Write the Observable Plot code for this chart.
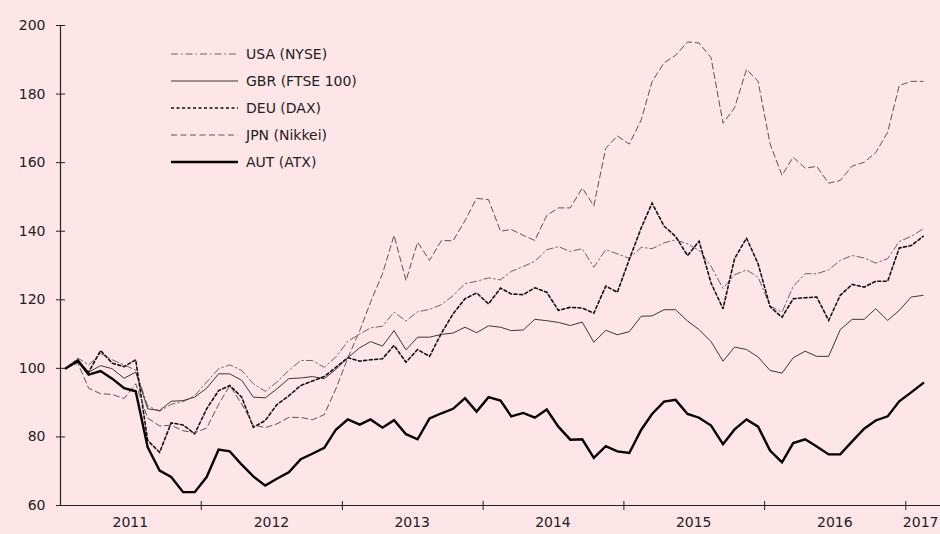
<!DOCTYPE html>
<html><head><meta charset="utf-8">
<script src="https://cdn.jsdelivr.net/npm/d3@7"></script>
<script src="https://cdn.jsdelivr.net/npm/@observablehq/plot@0.6"></script>
<style>
body{margin:0;background:#fee5e7;}
#wrap{position:relative;width:940px;height:534px;}
#legend{position:absolute;left:0;top:0;pointer-events:none;}
</style></head><body><div id="wrap"></div>
<script>
// Monthly index values, Jan 2011 = 100, Jan 2011 .. Feb 2017
const startYear = 2011;
const usa = [100,103,101,104.3,102.5,101,99.5,89,87.5,89.5,90.3,92,96,99.9,101,99.4,95.5,93.3,96,99.4,102.3,102.3,100.3,103.3,107.9,110,111.8,112.3,116.4,113.8,116.5,117.2,118.6,121.2,124.7,125.4,126.4,125.8,128.3,129.7,131.2,134.6,135.5,134.1,134.9,129.5,134.6,133.4,132.1,135.3,134.9,136.6,137.5,136.3,134.4,129.8,123.3,127.3,128.7,126.6,118.2,116.4,123.9,127.6,127.6,128.7,131.5,132.9,132.2,130.7,132,137,138.5,140.7];
const gbr = [100,101.8,98.9,100.8,99.9,97.1,98.9,88.2,87.7,90.4,90.6,91.6,94.2,98.4,98.4,96.5,91.6,91.4,94,97,97.2,97.6,97,99.7,103.1,106,107.8,106.5,111,105.4,109.1,109.1,109.9,110.3,112,110.4,112.4,112,111,111.2,114.3,113.9,113.4,112.5,113.5,107.6,111.1,109.8,110.7,115.2,115.3,117.1,117.1,113.8,111.3,107.8,102.1,106.2,105.5,103.3,99.4,98.6,103.1,105,103.5,103.5,111.3,114.3,114.3,117.4,114,116.9,120.8,121.3];
const deu = [100,102.1,98.9,105.2,101.5,100.5,102.5,79,75.5,84.1,83.5,80.9,88.2,93.5,95,91.6,82.8,84.8,89.4,92,95,96.3,97.6,100.3,103.1,102.1,102.5,102.8,106.7,101.8,105.5,103.5,110.3,115.9,120.3,122,118.8,123.4,121.7,121.5,123.5,122.2,116.9,117.8,117.6,116.1,124,122.2,131.8,141,148.2,141.5,138.5,132.9,137.1,124.9,117.4,132,138,130.5,118,114.9,120.3,120.6,120.8,114,121.3,124.5,123.7,125.4,125.4,135.1,135.8,138.5];
const jpn = [100,101.5,94.2,92.6,92.4,91.2,95.5,85.5,83.2,83.4,81.8,81.2,82.6,89.5,95,89.6,83.5,82.7,83.8,85.7,85.7,85,86.5,94,103,111,119.3,127.6,138.8,125.6,136.8,131.5,137.3,137.2,143.1,149.6,149.2,140,140.5,138.8,137.3,144.6,146.8,146.8,152.6,147.4,164.2,167.8,165.4,172.5,183.6,189.1,191.3,195.2,194.9,190.6,171.5,176,187.2,183.7,165.5,156.3,161.6,158.4,158.9,154,154.8,159,160.1,162.9,168.9,182.5,183.7,183.7];
const aut = [100,102.3,98.2,99.2,97,94.2,93.3,77,70.2,68.3,63.9,63.9,68.3,76.3,75.8,71.9,68.5,65.8,67.8,69.7,73.5,75.1,76.8,82.1,85.1,83.6,85.1,82.7,84.9,80.8,79.3,85.4,86.9,88.2,91.3,87.4,91.6,90.6,86,87,85.6,88,83,79.2,79.3,73.9,77.3,75.8,75.3,82.1,86.7,90.3,90.8,86.7,85.6,83.3,77.9,82.2,85.1,83,76,72.6,78.2,79.3,77.2,74.9,74.9,78.7,82.4,84.8,86,90.4,93,95.7];
const seriesNames = ["USA (NYSE)", "GBR (FTSE 100)", "DEU (DAX)", "JPN (Nikkei)", "AUT (ATX)"];
const yTicks = [60, 80, 100, 120, 140, 160, 180, 200];
const yearLabels = [2011, 2012, 2013, 2014, 2015, 2016, 2017];

const styles = [
  {stroke: "#6a6262", width: 1, dash: "7,3,1.5,3"},
  {stroke: "#3c3838", width: 1, dash: null},
  {stroke: "#111", width: 1.6, dash: "3,2.5"},
  {stroke: "#5a5454", width: 1, dash: "6,3.5"},
  {stroke: "#000", width: 2.4, dash: null}
];
const valueSets = [usa, gbr, deu, jpn, aut];

const dates = aut.map((_, i) => new Date(Date.UTC(startYear, i, 15)));
const xStart = new Date(Date.UTC(startYear, 0, 1));
const xEnd = new Date(Date.UTC(startYear, aut.length + 1, 1));
const yearBounds = yearLabels.slice(1).map(y => new Date(Date.UTC(y, 0, 1)));
const midYears = yearLabels.slice(0, -1).map(y => new Date(Date.UTC(y, 6, 1)));
const lastYear = yearLabels[yearLabels.length - 1];

const ink = "#222";
const chart = Plot.plot({
  width: 940, height: 534,
  marginLeft: 60, marginRight: 0, marginTop: 25, marginBottom: 29,
  style: {background: "transparent", fontFamily: "DejaVu Sans", fontSize: "14px", color: ink},
  x: {type: "utc", domain: [xStart, xEnd]},
  y: {domain: [60, 200]},
  marks: [
    ...valueSets.map((vals, k) => Plot.lineY(vals, {
      x: (d, i) => dates[i], y: d => d,
      stroke: styles[k].stroke, strokeWidth: styles[k].width,
      strokeDasharray: styles[k].dash, strokeLinejoin: "miter", strokeMiterlimit: 3
    })),
    Plot.ruleX([xStart], {stroke: ink, strokeWidth: 1.2}),
    Plot.ruleY([60], {stroke: ink, strokeWidth: 1.2}),
    Plot.tickY(yTicks, {y: d => d, insetRight: 871, dx: -4, stroke: ink}),
    Plot.tickX(yearBounds, {x: d => d, insetTop: 471, dy: 5, stroke: ink}),
    Plot.axisY(yTicks, {tickSize: 0, tickPadding: 15, fill: ink}),
    Plot.axisX(midYears, {tickSize: 0, tickPadding: 12, tickFormat: d => String(d.getUTCFullYear()), fill: ink}),
    Plot.text([String(lastYear)], {x: () => xEnd, y: () => 60, textAnchor: "end", dx: -2, dy: 12, lineAnchor: "top", fill: ink})
  ]
});
const wrap = document.getElementById("wrap");
wrap.appendChild(chart);

// legend overlay
const ns = "http://www.w3.org/2000/svg";
const leg = document.createElementNS(ns, "svg");
leg.setAttribute("id", "legend");
leg.setAttribute("width", 940);
leg.setAttribute("height", 534);
seriesNames.forEach((name, k) => {
  const y = 54 + k * 27;
  const ln = document.createElementNS(ns, "line");
  ln.setAttribute("x1", 171); ln.setAttribute("x2", 238);
  ln.setAttribute("y1", y); ln.setAttribute("y2", y);
  ln.setAttribute("stroke", styles[k].stroke);
  ln.setAttribute("stroke-width", styles[k].width);
  if (styles[k].dash) ln.setAttribute("stroke-dasharray", styles[k].dash);
  leg.appendChild(ln);
  const t = document.createElementNS(ns, "text");
  t.setAttribute("x", 246); t.setAttribute("y", y);
  t.setAttribute("dy", "0.35em");
  t.setAttribute("font-family", "DejaVu Sans");
  t.setAttribute("font-size", "14px");
  t.setAttribute("fill", ink);
  t.textContent = name;
  leg.appendChild(t);
});
wrap.appendChild(leg);
</script>
</body></html>
